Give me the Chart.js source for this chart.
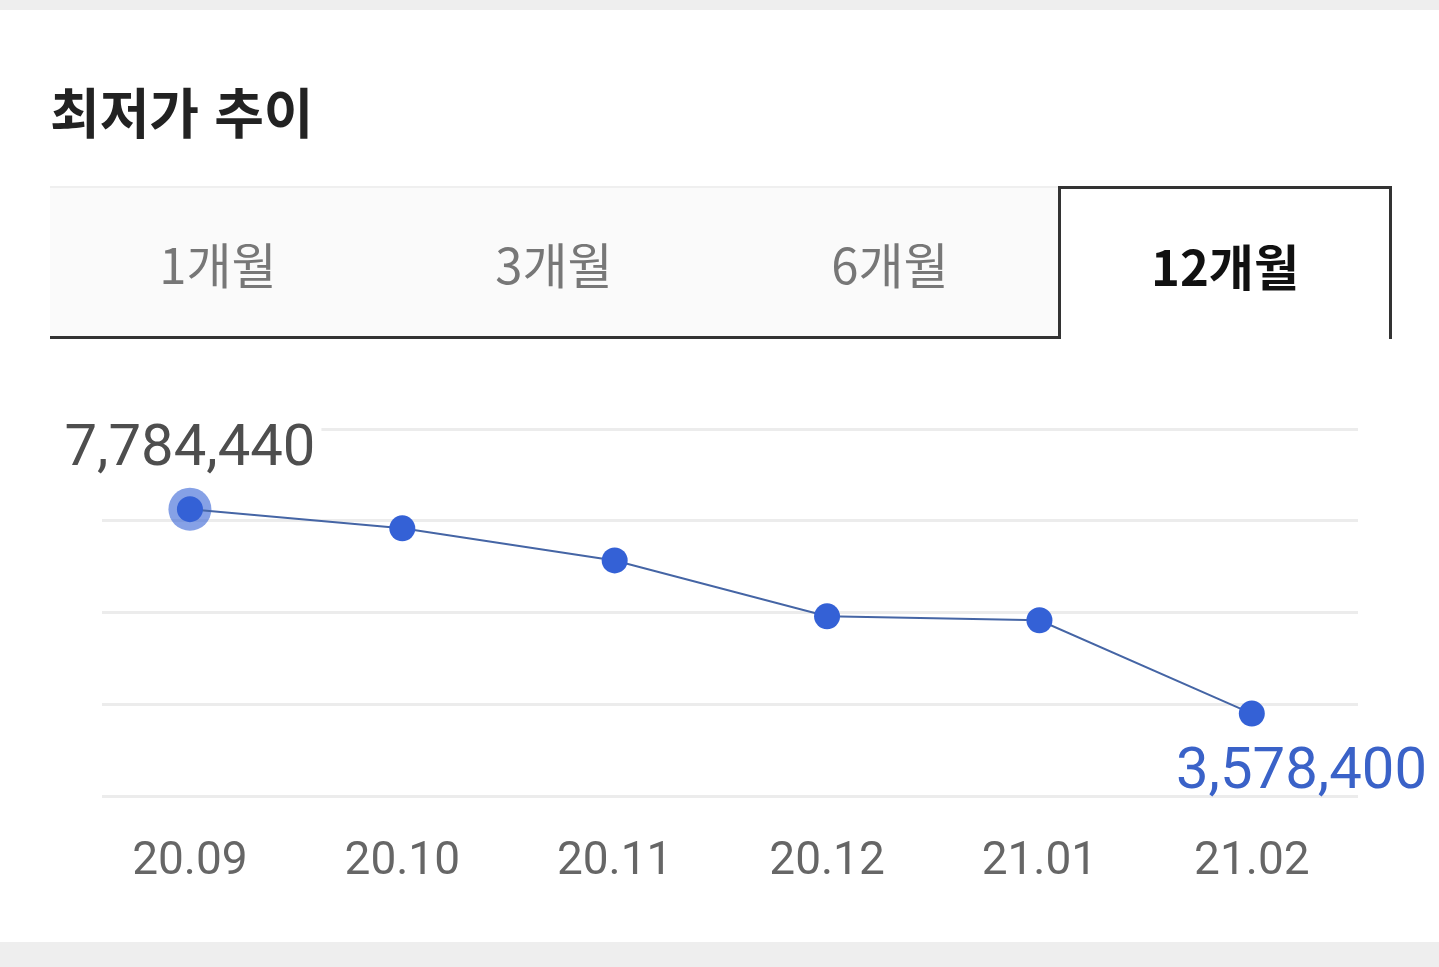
<!DOCTYPE html>
<html lang="ko">
<head>
<meta charset="utf-8">
<title>최저가 추이</title>
<script src="https://cdn.jsdelivr.net/npm/chart.js@4.4.1/dist/chart.umd.min.js"></script>
<style>
  html, body { margin: 0; padding: 0; background: #fff; }
  body { width: 1439px; height: 967px; position: relative; overflow: hidden; font-family: "Noto Sans CJK KR", "Noto Sans", sans-serif; }
  .band-top { position: absolute; left: 0; top: 0; width: 1439px; height: 10px; background: #eeeeee; }
  .band-bottom { position: absolute; left: 0; top: 942px; width: 1439px; height: 25px; background: #eeeeee; }
  h2 { position: absolute; left: 50px; top: 71px; margin: 0; font-size: 54px; font-weight: 700; color: #222; letter-spacing: 0; }
  .tabs { position: absolute; left: 50px; top: 186px; width: 1342px; height: 153px; display: flex; box-sizing: border-box;
          background: #fafafa; border-top: 2px solid #efefef; border-bottom: 3px solid #333; }
  .tab { width: 336px; display: flex; align-items: center; justify-content: center; font-size: 49px; color: #777; box-sizing: border-box; }
  .tab.on { width: 334px; background: #fff; color: #111; font-weight: 700; border: 3px solid #333; border-bottom: none;
            margin-top: -2px; margin-bottom: -3px; height: 153px; }
  #wrap { position: absolute; left: 0; top: 380px; width: 1439px; height: 560px; }
</style>
</head>
<body>
<div class="band-top"></div>
<h2>최저가 추이</h2>
<div class="tabs">
  <div class="tab">1개월</div>
  <div class="tab">3개월</div>
  <div class="tab">6개월</div>
  <div class="tab on">12개월</div>
</div>
<div id="wrap"><canvas id="chart"></canvas></div>
<div class="band-bottom"></div>
<script>
// 월별 최저가
const months = ['20.09', '20.10', '20.11', '20.12', '21.01', '21.02'];
const prices = [7784440, 7390000, 6730000, 5580000, 5500000, 3578400];
const yMin = 1867000;
const yMax = 9434000;

const priceLabels = {
    id: 'priceLabels',
    afterDatasetsDraw(chart) {
        const ctx = chart.ctx;
        const pts = chart.getDatasetMeta(0).data;
        const hi = prices.indexOf(Math.max(...prices));
        const lo = prices.indexOf(Math.min(...prices));
        ctx.save();
        ctx.font = '58px Roboto';
        ctx.textBaseline = 'alphabetic';

        // 최고가
        ctx.textAlign = 'center';
        let txt = prices[hi].toLocaleString('en-US');
        let w = ctx.measureText(txt).width;
        let x = Math.max(pts[hi].x, w / 2 + 12);
        let y = pts[hi].y - 44;
        ctx.fillStyle = '#fff';
        ctx.fillRect(x - w / 2 - 6, y - 48, w + 12, 58);
        ctx.fillStyle = '#4e4e4e';
        ctx.fillText(txt, x, y);

        // 최저가 (오른쪽 끝에 맞춤)
        ctx.textAlign = 'right';
        txt = prices[lo].toLocaleString('en-US');
        y = pts[lo].y + 74;
        ctx.fillStyle = '#3a62c8';
        ctx.fillText(txt, chart.width - 12, y);
        ctx.restore();
    }
};

const ctx = document.getElementById('chart').getContext('2d');
new Chart(ctx, {
    type: 'line',
    data: {
        datasets: [{
            label: '최저가',
            data: prices.map((v, i) => ({ x: i, y: v })),
            borderColor: '#4565a5',
            borderWidth: 2,
            pointRadius: 13,
            pointBackgroundColor: '#3461d6',
            pointBorderWidth: 0,
            tension: 0
        }, {
            label: 'halo',
            data: [{ x: 0, y: prices[0] }],
            showLine: false,
            pointRadius: 21.5,
            pointBackgroundColor: 'rgba(53,99,214,0.6)',
            pointBorderWidth: 0
        }]
    },
    options: {
        responsive: true,
        maintainAspectRatio: false,
        animation: false,
        layout: { padding: { left: 102, right: 81, top: 49, bottom: 12 } },
        plugins: { legend: { display: false }, tooltip: { enabled: false } },
        scales: {
            x: {
                type: 'linear',
                min: -0.414,
                max: 5.5,
                afterBuildTicks: s => { s.ticks = months.map((m, i) => ({ value: i })); },
                grid: { display: false, drawTicks: false },
                border: { display: false },
                ticks: {
                    autoSkip: false,
                    maxRotation: 0,
                    padding: 38,
                    color: '#666',
                    font: { family: 'Roboto', size: 46 },
                    callback: v => months[v]
                }
            },
            y: {
                min: yMin,
                max: yMax,
                afterBuildTicks: s => {
                    const step = (yMax - yMin) / 4;
                    s.ticks = [0, 1, 2, 3, 4].map(i => ({ value: yMin + step * i }));
                },
                grid: { color: '#ececec', lineWidth: 3, drawTicks: false },
                border: { display: false },
                ticks: { display: false }
            }
        }
    },
    plugins: [priceLabels]
});
</script>
</body>
</html>
